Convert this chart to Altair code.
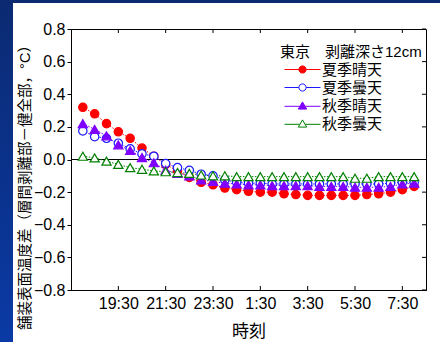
import altair as alt
import pandas as pd

# Half-hourly readings, 18:00 through 8:00 the next morning
times = ["18:00", "18:30", "19:00", "19:30", "20:00", "20:30", "21:00", "21:30",
         "22:00", "22:30", "23:00", "23:30", "0:00", "0:30", "1:00", "1:30",
         "2:00", "2:30", "3:00", "3:30", "4:00", "4:30", "5:00", "5:30",
         "6:00", "6:30", "7:00", "7:30", "8:00"]

summer_clear = [0.32, 0.28, 0.22, 0.17, 0.13, 0.07, 0.02, -0.03, -0.07, -0.11,
                -0.14, -0.155, -0.175, -0.185, -0.195, -0.20, -0.20, -0.21, -0.215, -0.22,
                -0.22, -0.22, -0.22, -0.22, -0.215, -0.21, -0.20, -0.185, -0.165]
summer_cloudy = [0.175, 0.14, 0.13, 0.10, 0.065, 0.035, 0.02, -0.025, -0.05, -0.066,
                 -0.09, -0.10, -0.125, -0.14, -0.145, -0.145, -0.15, -0.15, -0.15, -0.15,
                 -0.15, -0.15, -0.15, -0.15, -0.15, -0.15, -0.145, -0.14, -0.14]
autumn_clear = [0.22, 0.185, 0.145, 0.09, 0.055, 0.012, -0.02, -0.065, -0.085, -0.10,
                -0.125, -0.135, -0.145, -0.15, -0.155, -0.155, -0.16, -0.16, -0.16, -0.16,
                -0.165, -0.165, -0.165, -0.17, -0.17, -0.17, -0.165, -0.15, -0.145]
autumn_cloudy = [0.02, 0.01, -0.01, -0.03, -0.05, -0.06, -0.07, -0.075, -0.08, -0.085,
                 -0.095, -0.10, -0.10, -0.105, -0.105, -0.105, -0.105, -0.105, -0.105, -0.105,
                 -0.105, -0.105, -0.105, -0.115, -0.115, -0.105, -0.105, -0.105, -0.105]

series_names = ["夏季晴天", "夏季曇天", "秋季晴天", "秋季曇天"]
series_values = [summer_clear, summer_cloudy, autumn_clear, autumn_cloudy]
series_stroke = ["#ff0000", "#1a1aff", "#7f00ff", "#008000"]
series_fill = ["#ff0000", "white", "#7f00ff", "white"]
series_shape = ["circle", "circle", "triangle-up", "triangle-up"]

y_ticks = [-0.8, -0.6, -0.4, -0.2, 0.0, 0.2, 0.4, 0.6, 0.8]
x_ticks = ["19:30", "21:30", "23:30", "1:30", "3:30", "5:30", "7:30"]
x_range = ["17:30", "8:30"]

FONT = "Liberation Sans, Noto Sans CJK JP"
W, H = 355, 261


def stamp(hhmm):
    h, m = (int(p) for p in hhmm.split(":"))
    return pd.Timestamp(2024, 1, 1 if h >= 12 else 2, h, m)


def dt(hhmm):
    s = stamp(hhmm)
    return alt.DateTime(year=s.year, month=s.month, date=s.day, hours=s.hour, minutes=s.minute)


frames = []
for name, vals in zip(series_names, series_values):
    frames.append(pd.DataFrame({"time": [stamp(t) for t in times], "value": vals, "series": name}))
data = pd.concat(frames, ignore_index=True)

x_enc = alt.X(
    "time:T",
    scale=alt.Scale(domain=[dt(x_range[0]), dt(x_range[1])]),
    axis=alt.Axis(
        values=[dt(t) for t in x_ticks], format="%-H:%M", title="時刻",
        ticks=False, grid=False, domainColor="black", labelFont=FONT, labelFontSize=16,
        labelColor="black", labelPadding=5, titleFont=FONT, titleFontSize=17,
        titleFontWeight="normal", titleColor="black", titleY=41, titleBaseline="middle",
        labelFlush=False, labelOverlap=False,
    ),
)
y_enc = alt.Y(
    "value:Q",
    scale=alt.Scale(domain=[-0.8, 0.8], nice=False, zero=False),
    axis=alt.Axis(
        values=y_ticks, format=".1f", title="舗装表面温度差（層間剥離部－健全部，°C）",
        grid=False, tickSize=4, tickColor="black", domainColor="black",
        labelFont=FONT, labelFontSize=16, labelColor="black", labelPadding=2,
        titleFont=FONT, titleFontSize=14.5, titleFontWeight="normal", titleColor="black",
        titleX=-46, titleY=154.5, titleAlign="center", titleBaseline="middle",
        labelFlush=False, labelOverlap=False,
    ),
)

deco = alt.Data(values=[{}])

# Page decoration: dark blue strips on the left and top edges
left_strip = alt.Chart(deco).mark_rect(
    color=alt.LinearGradient(
        gradient="linear", x1=0, x2=0, y1=0, y2=1,
        stops=[alt.GradientStop(offset=0, color="#0b2a72"),
               alt.GradientStop(offset=1, color="#0a3aa5")],
    )
).encode(x=alt.value(-71), x2=alt.value(-58), y=alt.value(-29), y2=alt.value(H + 52))
top_strip = alt.Chart(deco).mark_rect(color="#0b2a72").encode(
    x=alt.value(-71), x2=alt.value(W + 14), y=alt.value(-29), y2=alt.value(-26)
)

# Reference line at zero difference
zero_line = alt.Chart(pd.DataFrame({"value": [0.0]})).mark_rule(
    color="black", strokeWidth=1.2).encode(y=y_enc)

# Inward ticks on the bottom, top and right edges of the frame
xtick_df = pd.DataFrame({"time": [stamp(t) for t in x_ticks]})
ytick_df = pd.DataFrame({"value": y_ticks})
bottom_ticks = alt.Chart(xtick_df).mark_rule(color="black").encode(
    x=x_enc, y=alt.value(H - 4), y2=alt.value(H))
top_ticks = alt.Chart(xtick_df).mark_rule(color="black").encode(
    x=x_enc, y=alt.value(0), y2=alt.value(4))
right_ticks = alt.Chart(ytick_df).mark_rule(color="black").encode(
    y=y_enc, x=alt.value(W - 4), x2=alt.value(W))

lines = []
points = []
for name, stroke, fill, shape in zip(series_names, series_stroke, series_fill, series_shape):
    sub = alt.Chart(data).transform_filter(alt.datum.series == name)
    lines.append(sub.mark_line(color=stroke, strokeWidth=1, strokeDash=[1.5, 1.5]).encode(
        x=x_enc, y=y_enc))
    size = 70 if shape == "circle" else 85
    points.append(sub.mark_point(shape=shape, size=size, filled=True, fill=fill, stroke=stroke,
                                 strokeWidth=1.2, opacity=1).encode(x=x_enc, y=y_enc))

# Legend symbols: a line segment through the marker
legend_paths = [
    "M-4.5,0H-0.9M0.9,0H4.5M0.9,0A0.9,0.9 0 1,1 -0.9,0A0.9,0.9 0 1,1 0.9,0Z",
    "M-4.5,0H-0.9M0.9,0H4.5M0.9,0A0.9,0.9 0 1,1 -0.9,0A0.9,0.9 0 1,1 0.9,0Z",
    "M-4.5,0.2H-0.7M0.7,0.2H4.5M0,-0.9L1.05,0.9L-1.05,0.9Z",
    "M-4.5,0.2H-0.7M0.7,0.2H4.5M0,-0.9L1.05,0.9L-1.05,0.9Z",
]
legend_spec = alt.Legend(
    title="東京　剥離深さ12cm", orient="none", legendX=209, legendY=16, padding=0,
    titleFont=FONT, titleFontSize=15, titleFontWeight="normal", titleColor="black",
    titlePadding=2, labelFont=FONT, labelFontSize=15, labelColor="black",
    symbolSize=64, symbolStrokeWidth=1, symbolOffset=15, labelOffset=12, rowPadding=2,
)
legend_layer = alt.Chart(pd.DataFrame({"series": series_names})).mark_point(
    opacity=1, filled=True
).encode(
    shape=alt.Shape("series:N", scale=alt.Scale(domain=series_names, range=legend_paths),
                    legend=legend_spec, sort=series_names),
    fill=alt.Fill("series:N", scale=alt.Scale(domain=series_names, range=series_fill),
                  legend=legend_spec, sort=series_names),
    stroke=alt.Stroke("series:N", scale=alt.Scale(domain=series_names, range=series_stroke),
                      legend=legend_spec, sort=series_names),
).transform_filter("false")

chart = alt.layer(
    left_strip, top_strip, zero_line, *lines, *points,
    bottom_ticks, top_ticks, right_ticks, legend_layer,
).properties(
    width=W, height=H,
    autosize=alt.AutoSizeParams(type="none"),
    padding={"left": 71, "top": 29, "right": 14, "bottom": 52},
    background="white",
).configure_view(stroke="black", strokeWidth=1)

chart.save("out.html", embed_options={"renderer": "svg", "actions": False})
